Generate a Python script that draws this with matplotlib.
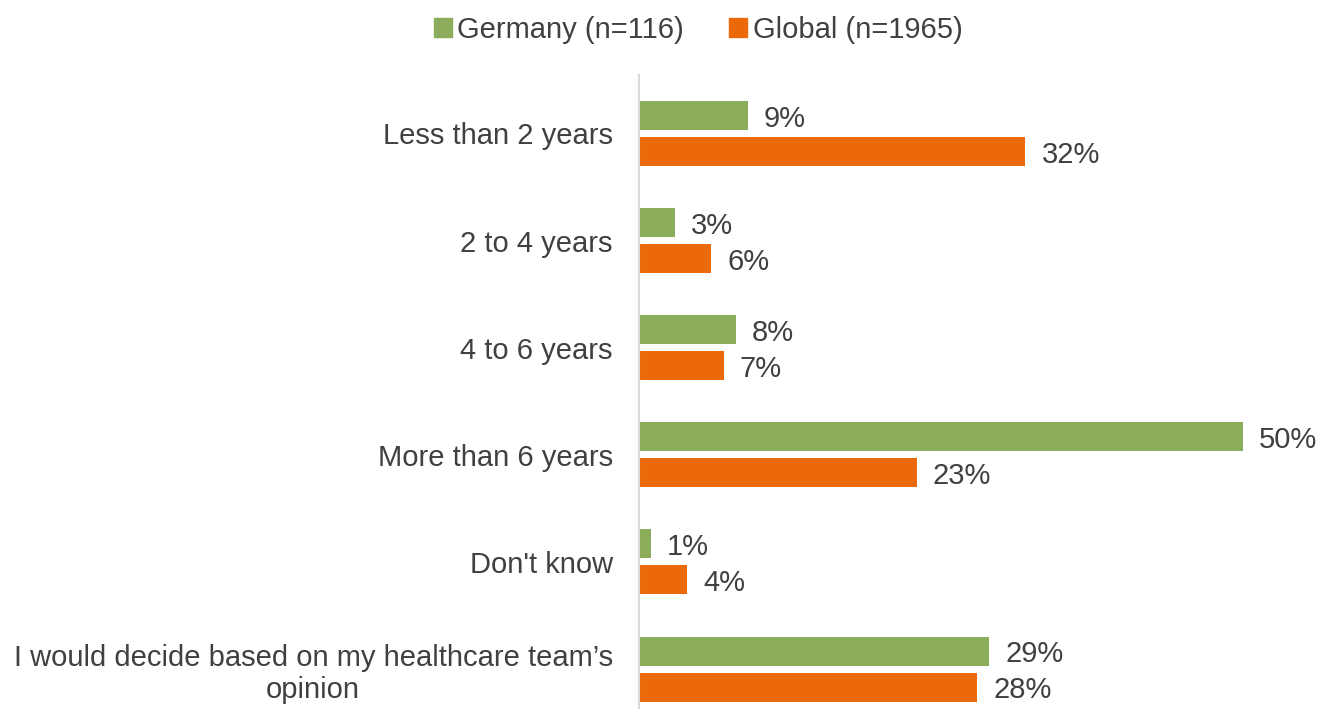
import matplotlib
matplotlib.use("Agg")
import matplotlib.pyplot as plt
from matplotlib.patches import Patch
import numpy as np

categories = [
    "Less than 2 years",
    "2 to 4 years",
    "4 to 6 years",
    "More than 6 years",
    "Don't know",
    "I would decide based on my healthcare team\u2019s\nopinion",
]
germany = [9, 3, 8, 50, 1, 29]
global_ = [32, 6, 7, 23, 4, 28]
series_names = ["Germany (n=116)", "Global (n=1965)"]

green = "#8BAC5A"
orange = "#EB6909"
text_col = "#404040"

plt.rcParams["font.family"] = ["Liberation Sans", "DejaVu Sans"]

fig = plt.figure(figsize=(13.25, 7.09), dpi=100)
ax = fig.add_axes([0.4823, 0.0, 0.4921, 0.8942])

y = np.arange(len(categories))
h = 0.271
off = 0.168
b1 = ax.barh(y - off, germany, height=h, color=green)
b2 = ax.barh(y + off, global_, height=h, color=orange)

for bars in (b1, b2):
    labels = ax.bar_label(bars, labels=["{}%".format(v) for v in bars.datavalues],
                          padding=11.5, fontsize=21, color=text_col)
    # nudge the value labels a little below the bar centre
    for t in labels:
        t.xyann = (t.xyann[0], t.xyann[1] - 2.2)

ax.set_xlim(0, 54)
ax.set_ylim(len(categories) - 1 + 0.373, -0.546)
ax.set_yticks(y)
ax.set_yticklabels(categories, fontsize=21, color=text_col)
for lab in ax.get_yticklabels():
    lab.set_multialignment("center")
ax.tick_params(axis="y", length=0, pad=19)
ax.set_xticks([])

for s in ("top", "right", "bottom"):
    ax.spines[s].set_visible(False)
ax.spines["left"].set_color("#D9D9D9")
ax.spines["left"].set_linewidth(1.5)

handles = [Patch(color=green), Patch(color=orange)]
leg = fig.legend(handles, series_names, loc="center", bbox_to_anchor=(0.527, 0.958),
                 ncol=2, frameon=False, fontsize=21, handlelength=0.6, handleheight=0.6,
                 handletextpad=0.2, columnspacing=1.55)
for t in leg.get_texts():
    t.set_color(text_col)

fig.savefig("out.png", dpi=100)
